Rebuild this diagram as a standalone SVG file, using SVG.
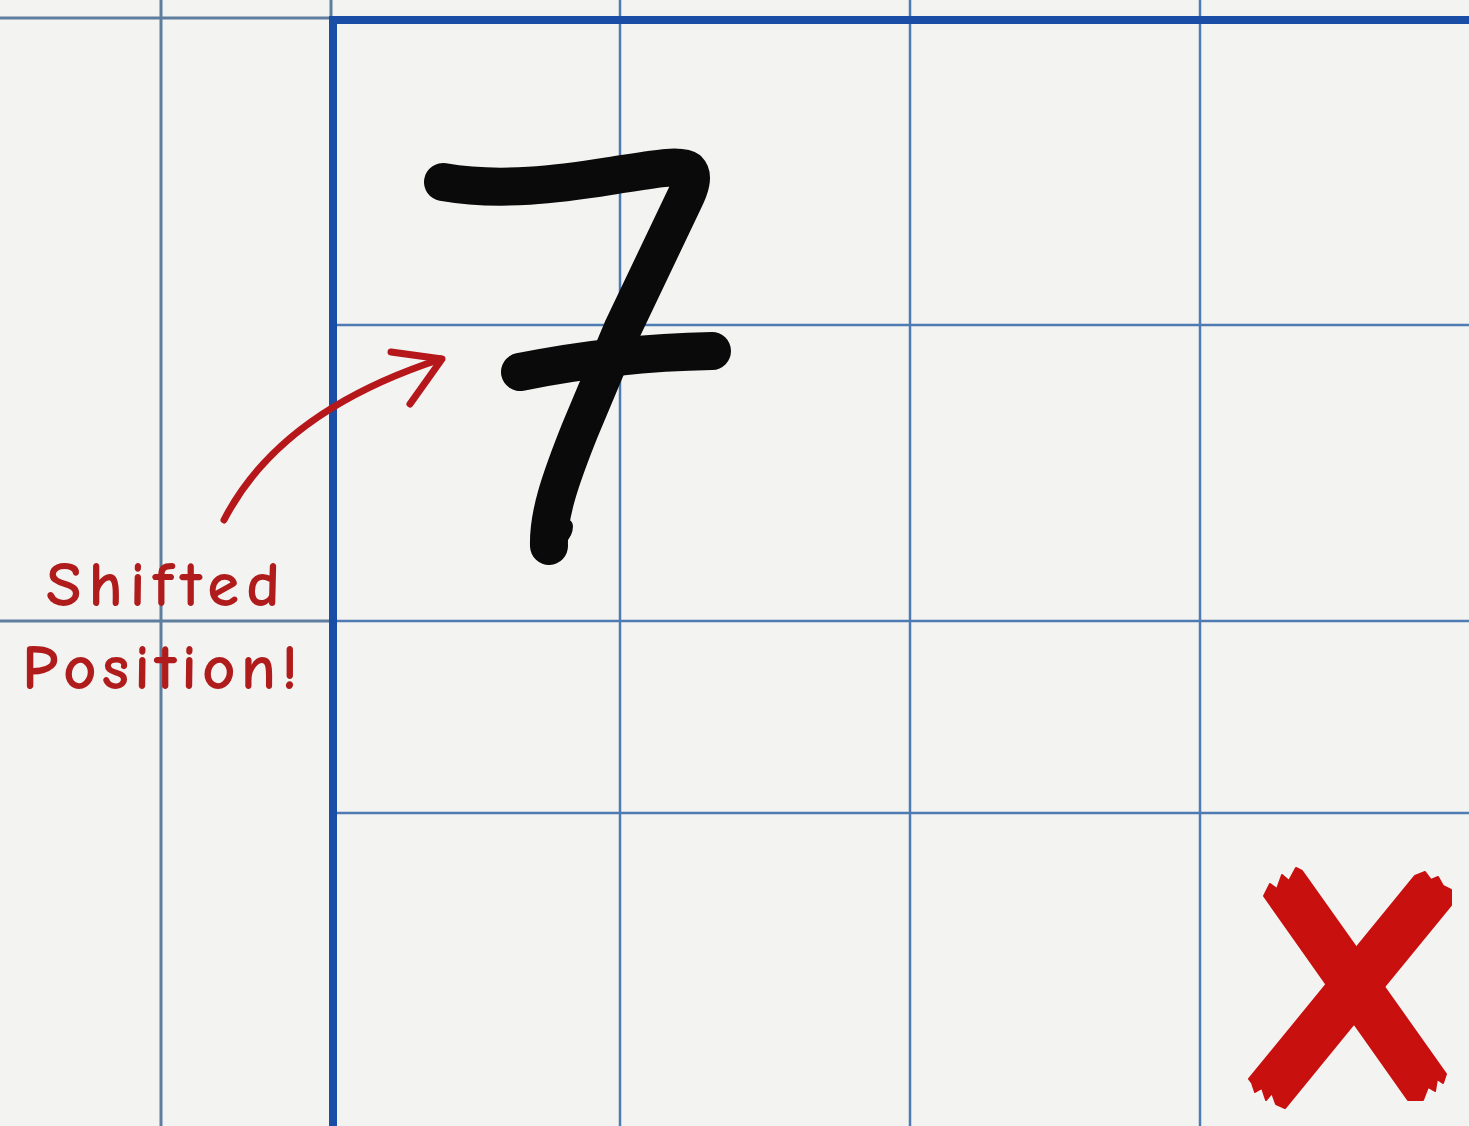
<svg xmlns="http://www.w3.org/2000/svg" width="1469" height="1126" viewBox="0 0 1469 1126">
<style>
.thin{stroke:#4f7bb5;stroke-width:2.5;fill:none}
.thinL{stroke:#5f7e9e;stroke-width:3;fill:none}
.thick{stroke:#1a4ea6;stroke-width:8;fill:none}
.ink{stroke:#0a0a0a;stroke-width:38;stroke-linecap:round;stroke-linejoin:round;fill:none}
.red{stroke:#b5171a;stroke-width:7;stroke-linecap:round;stroke-linejoin:round;fill:none}
.lbl{font-family:"Comic Neue","DejaVu Sans",sans-serif;font-size:65px;font-weight:bold;fill:#b01c1c}
.x{fill:#c8100f;stroke:#c8100f;stroke-width:2;stroke-linejoin:round}
</style>
<rect width="1469" height="1126" fill="#f3f3f2"/>
<g id="grid">
<line class="thinL" x1="0" y1="18" x2="330" y2="18"/>
<line class="thinL" x1="0" y1="621" x2="330" y2="621"/>
<line class="thinL" x1="161" y1="0" x2="161" y2="1126"/>
<line class="thinL" x1="331" y1="0" x2="331" y2="18"/>
<line class="thin" x1="620" y1="0" x2="620" y2="1126"/>
<line class="thin" x1="910" y1="0" x2="910" y2="1126"/>
<line class="thin" x1="1200" y1="0" x2="1200" y2="1126"/>
<line class="thin" x1="335" y1="325" x2="1469" y2="325"/>
<line class="thin" x1="335" y1="621" x2="1469" y2="621"/>
<line class="thin" x1="335" y1="813" x2="1469" y2="813"/>
<path class="thick" d="M333 1126 V20 H1469"/>
</g>
<g id="seven">
<path class="ink" d="M443 182 C500 192 560 184 610 176 C650 170 680 164 688 170 C694 176 690 188 684 200 L622 330 L580 430 C560 480 548 515 549 546"/>
<path d="M549 546 C556 542 566 536 566 526" stroke="#0a0a0a" stroke-width="14" stroke-linecap="round" fill="none"/>
<path class="ink" d="M520 372 C580 360 650 352 712 351"/>
</g>
<g id="connectors">
<path class="red" d="M224 520 C260 450 330 395 441 359"/>
<path class="red" d="M391 352 L442 359 L410 404"/>
</g>
<g id="label">
<text class="lbl" x="46" y="606" letter-spacing="7">Shifted</text>
<text class="lbl" x="22" y="689" letter-spacing="5">Position!</text>
</g>
<g id="cross">
<polygon class="x" points="1264,896 1270,884 1277,889 1282,875 1289,881 1296,868 1302,871 1446,1074 1443,1083 1437,1079 1435,1091 1428,1087 1423,1100 1408,1100"/>
<polygon class="x" points="1415,876 1425,872 1431,880 1438,877 1443,886 1451,890 1451,905 1285,1108 1276,1104 1272,1093 1266,1100 1262,1088 1255,1092 1252,1083 1249,1079"/>
</g>
</svg>
